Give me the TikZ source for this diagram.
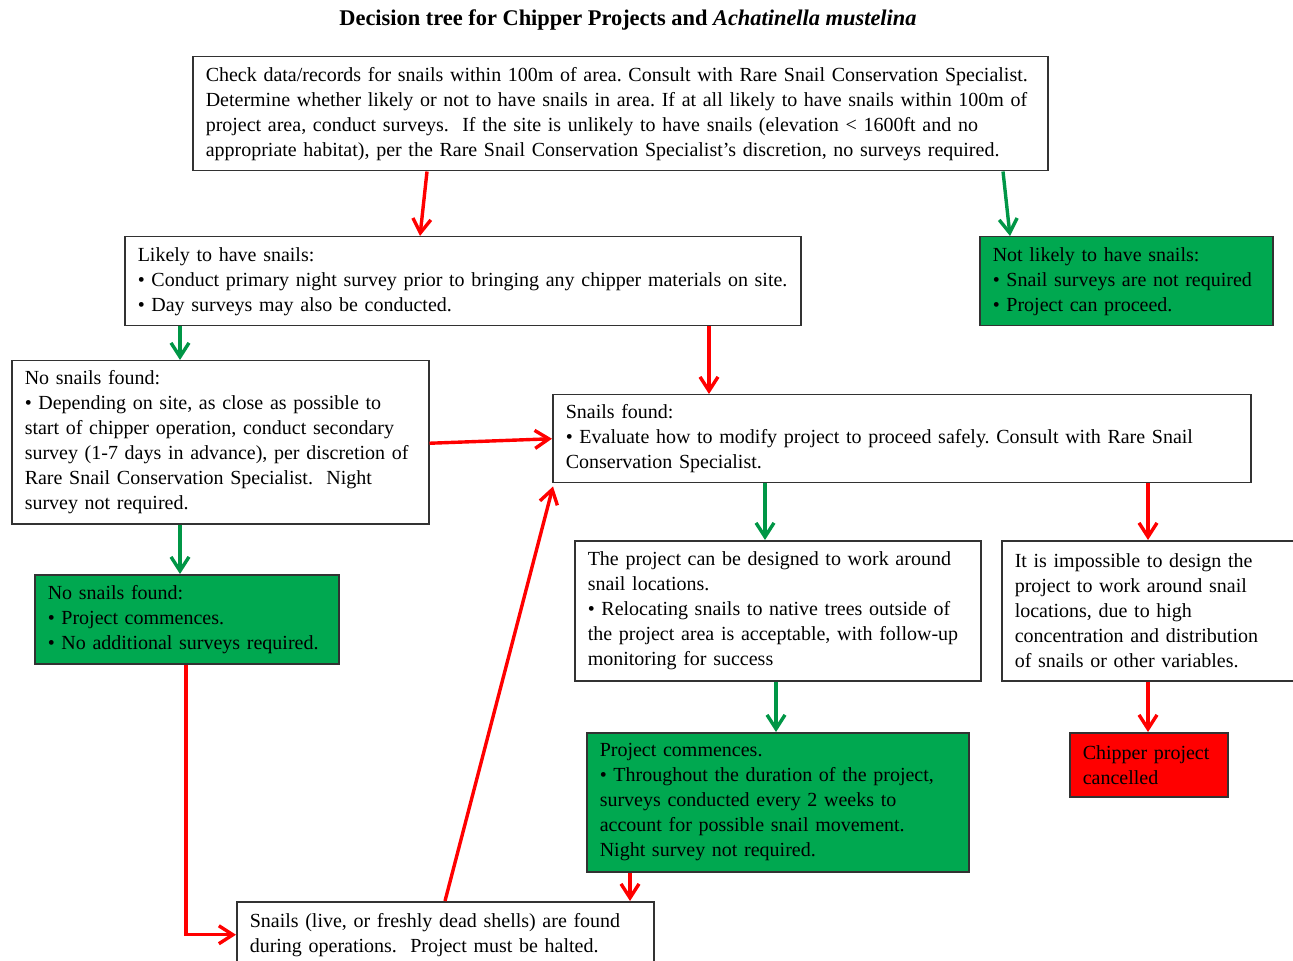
\documentclass[tikz,border=0pt]{standalone}
\usepackage{fontspec}
\setmainfont{Liberation Serif}
\usetikzlibrary{arrows.meta,calc}
\frenchspacing

\definecolor{boxgreen}{RGB}{0,168,80}
\definecolor{arrowgreen}{RGB}{0,150,70}
\definecolor{arrowred}{RGB}{255,0,0}
\definecolor{boxred}{RGB}{255,0,0}
\definecolor{edgegray}{RGB}{50,50,50}

\newcommand{\boxfont}{\fontsize{10}{12.5}\selectfont}

\tikzset{
  % box={width}{height}, both in picture units
  box/.code 2 args={%
    \pgfmathsetlengthmacro\boxtextwidth{#1*0.5pt-13pt}%
    \tikzset{draw=edgegray, line width=0.75pt, anchor=north west, align=left,
      font=\boxfont, inner xsep=6.5pt, inner ysep=2pt,
      minimum width=#1*0.5pt, minimum height=#2*0.5pt,
      text width=\boxtextwidth}},
  greenbox/.style={fill=boxgreen},
  redbox/.style={fill=boxred},
  redarrow/.style={draw=arrowred, line width=1.7pt,
    -{Straight Barb[length=7pt,width=9pt]}},
  greenarrow/.style={draw=arrowgreen, line width=1.7pt,
    -{Straight Barb[length=7pt,width=9pt]}},
}

\begin{document}
\begin{tikzpicture}[x=0.5pt,y=-0.5pt]
\useasboundingbox (0,0) rectangle (1293,961);
\clip (0,0) rectangle (1293,961);

% Title
\node[font=\fontsize{11.2}{13}\selectfont\bfseries] (title) at (628,20)
  {Decision tree for Chipper Projects and \textit{Achatinella mustelina}};

% First check
\node[box={855}{114}] (check) at (192,56)
  {Check data/records for snails within 100m of area. Consult with Rare Snail Conservation Specialist.\\
   Determine whether likely or not to have snails in area. If at all likely to have snails within 100m of\\
   project area, conduct surveys.\ \ If the site is unlikely to have snails (elevation < 1600ft and no\\
   appropriate habitat), per the Rare Snail Conservation Specialist's discretion, no surveys required.};

% Likely / not likely
\node[box={676}{89}] (likely) at (124,236)
  {Likely to have snails:\\
   \textbullet\ Conduct primary night survey prior to bringing any chipper materials on site.\\
   \textbullet\ Day surveys may also be conducted.};
\node[box={293}{89}, greenbox] (notlikely) at (979,236)
  {Not likely to have snails:\\
   \textbullet\ Snail surveys are not required\\
   \textbullet\ Project can proceed.};

% Results of the night survey
\node[box={417}{163}] (nosnails) at (11,360)
  {No snails found:\\
   \textbullet\ Depending on site, as close as possible to\\
   start of chipper operation, conduct secondary\\
   survey (1-7 days in advance), per discretion of\\
   Rare Snail Conservation Specialist.\ \ Night\\
   survey not required.};
\node[box={698}{88}] (found) at (552,394)
  {Snails found:\\
   \textbullet\ Evaluate how to modify project to proceed safely. Consult with Rare Snail\\
   Conservation Specialist.};
\node[box={304}{89}, greenbox] (commence) at (34,574)
  {No snails found:\\
   \textbullet\ Project commences.\\
   \textbullet\ No additional surveys required.};

% Work around or cancel
\node[box={406}{140}] (workaround) at (574,540)
  {The project can be designed to work around\\
   snail locations.\\
   \textbullet\ Relocating snails to native trees outside of\\
   the project area is acceptable, with follow-up\\
   monitoring for success};
\node[box={309}{140}] (impossible) at (1001,540)
  {It is impossible to design the\\
   project to work around snail\\
   locations, due to high\\
   concentration and distribution\\
   of snails or other variables.};
\node[box={382}{139}, greenbox] (monitor) at (586,732)
  {Project commences.\\
   \textbullet\ Throughout the duration of the project,\\
   surveys conducted every 2 weeks to\\
   account for possible snail movement.\\
   Night survey not required.};
\node[box={158}{64}, redbox] (cancel) at (1069,732)
  {Chipper project\\
   cancelled};

% Halt
\node[box={417}{66}] (halt) at (236,901)
  {Snails (live, or freshly dead shells) are found\\
   during operations.\ \ Project must be halted.};

% Arrows
\draw[redarrow] ($(check.south west)+(235,0)$) -- ($(likely.north west)+(296,0)$);
\draw[greenarrow] ($(check.south west)+(811,0)$) -- ($(notlikely.north west)+(31,0)$);
\draw[greenarrow] ($(likely.south west)+(56,0)$) -- ($(nosnails.north west)+(169,0)$);
\draw[redarrow] ($(likely.south west)+(585,0)$) -- ($(found.north west)+(157,0)$);
\draw[redarrow] ($(nosnails.east)+(0,1)$) -- (found.west);
\draw[greenarrow] ($(nosnails.south west)+(169,0)$) -- ($(commence.north west)+(146,0)$);
\draw[greenarrow] ($(found.south west)+(213,0)$) -- ($(workaround.north west)+(191,0)$);
\draw[redarrow] ($(found.south west)+(596,0)$) -- ($(impossible.north west)+(147,0)$);
\draw[greenarrow] ($(workaround.south west)+(202,0)$) -- ($(monitor.north west)+(190,0)$);
\draw[redarrow] ($(impossible.south west)+(147,0)$) -- ($(cancel.north west)+(79,0)$);
\draw[redarrow] ($(monitor.south west)+(44,0)$) -- ($(halt.north west)+(394,0)$);
\draw[redarrow] ($(commence.south west)+(152,0)$) |- (halt.west);
\draw[redarrow] ($(halt.north west)+(209,0)$) -- ($(found.south west)+(1,3)$);
\end{tikzpicture}
\end{document}
